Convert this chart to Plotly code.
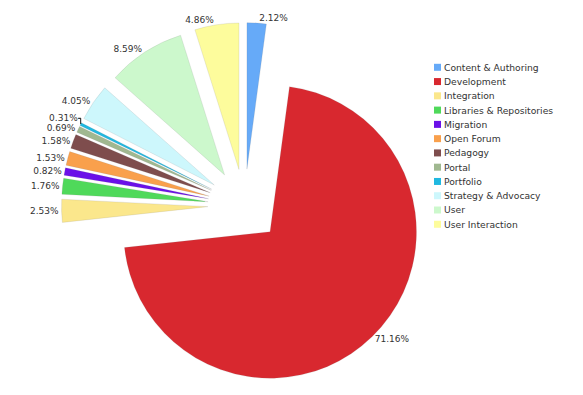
import plotly.graph_objects as go

categories = ["Content & Authoring", "Development", "Integration", "Libraries & Repositories",
              "Migration", "Open Forum", "Pedagogy", "Portal", "Portfolio",
              "Strategy & Advocacy", "User", "User Interaction"]
shares = [2.12, 71.16, 2.53, 1.76, 0.82, 1.53, 1.58, 0.69, 0.31, 4.05, 8.59, 4.86]
colors = ["#66aaf8", "#d8282f", "#fbe78c", "#4fd95a", "#6a10e8", "#f9a04c",
          "#7e4d4d", "#a0b890", "#20b8e0", "#cdf7fc", "#ccf8cc", "#fdfc9c"]

W, H = 583, 395
OFF = 8  # page body margin offset
FONT = "DejaVu Sans"


def px(x):
    return (x - OFF) / W


def py(y):
    return 1 - (y - OFF) / H


fig = go.Figure()
fig.add_trace(go.Pie(
    labels=categories, values=shares, sort=False, direction="clockwise", rotation=0,
    marker=dict(colors=colors, line=dict(color="rgba(120,120,120,0.3)", width=0.5)),
    pull=[0.25] * len(shares),
    textposition="outside", texttemplate="%{percent:.2%}",
    textfont=dict(family=FONT, size=9, color="#333333"),
    hoverinfo="label+percent", automargin=False,
    domain=dict(x=[px(61.5), px(427.5)], y=[py(388.6), py(22.6)]),
    showlegend=False,
))

# legend drawn as compact list on the right
shapes, annotations = [], []
y0, dy = 67.3, 14.27
for i, (name, col) in enumerate(zip(categories, colors)):
    yc = y0 + i * dy
    shapes.append(dict(type="rect", xref="paper", yref="paper",
                       x0=px(434), x1=px(441), y0=py(yc + 3.5), y1=py(yc - 3.5),
                       fillcolor=col, line=dict(width=0)))
    annotations.append(dict(text=name, xref="paper", yref="paper", x=px(442), y=py(yc),
                            xanchor="left", yanchor="middle", showarrow=False,
                            font=dict(family=FONT, size=9.2, color="#333333")))

fig.update_layout(
    width=W, height=H, margin=dict(l=0, r=0, t=0, b=0, autoexpand=False),
    paper_bgcolor="white", plot_bgcolor="white",
    shapes=shapes, annotations=annotations,
)
fig.write_html("out.html")
